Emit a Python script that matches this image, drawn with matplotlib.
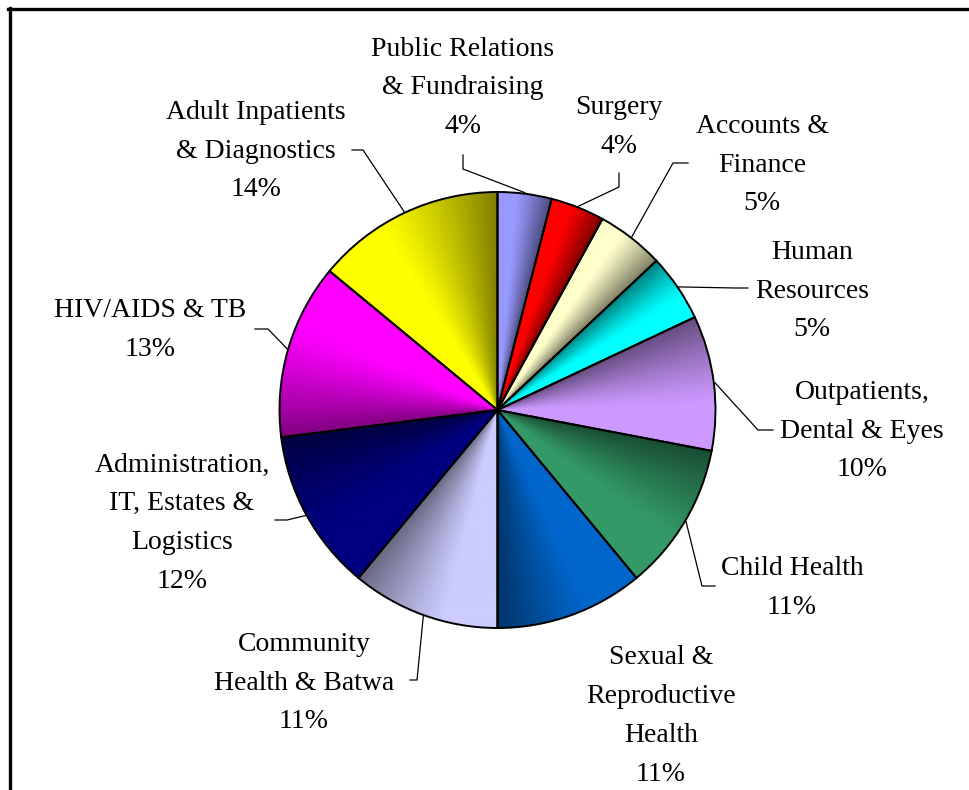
import numpy as np
import matplotlib
matplotlib.use('Agg')
import matplotlib.pyplot as plt
from matplotlib.colors import to_rgb
from matplotlib.patches import Wedge
from matplotlib.lines import Line2D

# slices, clockwise from 12 o'clock
labels = ['Public Relations\n& Fundraising', 'Surgery', 'Accounts &\nFinance',
          'Human\nResources', 'Outpatients,\nDental & Eyes', 'Child Health',
          'Sexual &\nReproductive\nHealth', 'Community\nHealth & Batwa',
          'Administration,\nIT, Estates &\nLogistics', 'HIV/AIDS & TB',
          'Adult Inpatients\n& Diagnostics']
values = [4, 4, 5, 5, 10, 11, 11, 11, 12, 13, 14]
colors = ['#9999FF', '#FF0000', '#FFFFCC', '#00FFFF', '#CC99FF', '#339966',
          '#0066CC', '#CCCCFF', '#000080', '#FF00FF', '#FFFF00']
dark_side = ['end', 'end', 'end', 'start', 'start', 'start',
             'end', 'end', 'end', 'start', 'end']

# label placement (pixels, y from top) and leader elbows
label_pos = [(463, 88), (619, 127), (762, 165), (812, 291), (862, 431),
             (792, 588), (661, 716), (304, 683), (182, 523), (150, 330),
             (256, 151)]
leaders = [[(463, 169), (463, 155)], [(619, 187), (619, 173)],
           [(673, 163), (688, 163)], [(735, 288), (748, 288)],
           [(758, 430), (773, 430)], [(702, 586), (715, 586)],
           None, [(417, 680), (410, 680)], [(287, 520), (275, 520)],
           [(268, 329), (255, 329)], [(363, 150), (352, 150)]]

W, H = 969, 790
fig = plt.figure(figsize=(W / 100, H / 100), dpi=100)
ax = fig.add_axes([0, 0, 1, 1])

cx, cy, R = 497.5, H - 410, 218
wedges, _ = ax.pie(values, colors=colors, startangle=90, counterclock=False,
                   center=(cx, cy), radius=R,
                   wedgeprops=dict(linewidth=0))
ax.set_xlim(0, W)
ax.set_ylim(0, H)
ax.set_aspect('equal')
ax.axis('off')

# shaded fill for each slice
n = 500
xs = np.linspace(cx - R, cx + R, n)
ys = np.linspace(cy - R, cy + R, n)
X, Y = np.meshgrid(xs, ys)
phi = np.degrees(np.arctan2(Y - cy, X - cx))
for w, c, side in zip(wedges, colors, dark_side):
    span = w.theta2 - w.theta1
    t = np.clip(((w.theta2 - phi) % 360) / span, 0, 1)
    s = t if side == 'end' else 1 - t
    f = 1 - 0.5 * np.clip((s - 0.35) / 0.65, 0, 1) ** 1.2
    img = np.array(to_rgb(c))[None, None, :] * f[..., None]
    im = ax.imshow(img, extent=(cx - R, cx + R, cy - R, cy + R),
                   origin='lower', interpolation='bilinear', zorder=2)
    im.set_clip_path(w)
    ax.add_patch(Wedge(w.center, w.r, w.theta1, w.theta2, fill=False,
                       edgecolor='black', linewidth=1.4, zorder=3))

for w, lab, v, pos, ld in zip(wedges, labels, values, label_pos, leaders):
    ax.text(pos[0], H - pos[1], f'{lab}\n{v}%', ha='center', va='center',
            multialignment='center', fontsize=20, linespacing=1.72,
            family='Liberation Serif', color='black')
    if ld is None:
        continue
    mid = np.radians((w.theta1 + w.theta2) / 2)
    px = [cx + (R + 1) * np.cos(mid)] + [p[0] for p in ld]
    py = [cy + (R + 1) * np.sin(mid)] + [H - p[1] for p in ld]
    ax.plot(px, py, color='black', linewidth=0.9, zorder=4)

# chart border (top and left visible)
fig.add_artist(Line2D([8 / W, 1], [1 - 8.5 / H] * 2, transform=fig.transFigure,
                      color='black', linewidth=2.4))
fig.add_artist(Line2D([9.5 / W] * 2, [0, 1 - 7.5 / H], transform=fig.transFigure,
                      color='black', linewidth=2.4))

fig.savefig('out.png', dpi=100, facecolor='white')
